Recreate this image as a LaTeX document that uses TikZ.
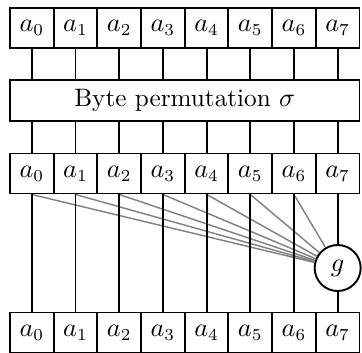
\documentclass[tikz,border=0pt]{standalone}
\usetikzlibrary{positioning}
\usetikzlibrary{calc}

\tikzset{
  cell/.style={draw, line width=0.8pt, minimum width=0.64cm, minimum height=0.586cm, inner sep=0pt},
  permbox/.style={cell, minimum width=5.12cm, minimum height=0.6cm},
  gnode/.style={draw, circle, line width=0.8pt, minimum size=0.674cm, inner sep=0pt, fill=white},
  wire/.style={line width=0.8pt},
  mixwire/.style={line width=0.6pt, gray},
}

\begin{document}
\begin{tikzpicture}[font=\fontsize{10.5}{12.5}\selectfont]
            \useasboundingbox (0,0) rectangle (5.303,5.171);
            \foreach \i in {0,...,7} {
                \node[cell] (t\i) at (0.4665+0.64*\i,4.761) {$a_\i$};
                \node[cell] (m\i) at (0.4665+0.64*\i,2.629) {$a_\i$};
                \node[cell] (b\i) at (0.4665+0.64*\i,0.30) {$a_\i$};
            }
            \node[permbox] (perm) at (2.7065,3.699) {Byte permutation $\sigma$};
            \node[gnode] (g) at (4.9465,1.245) {$g$};
            % into and out of the permutation
            \foreach \i in {0,...,7} {
                \draw[wire] (t\i.south) -- (t\i.south |- perm.north);
                \draw[wire] (perm.south -| m\i.north) -- (m\i.north);
            }
            % mixing into g
            \foreach \i in {0,...,6} {
                \draw[mixwire] (m\i.south) -- (g);
            }
            \foreach \i in {0,...,6} {
                \draw[wire] (m\i.south) -- (b\i.north);
            }
            \draw[wire] (m7.south) -- (g);
            \draw[wire] (g) -- (b7.north);
\end{tikzpicture}
\end{document}
